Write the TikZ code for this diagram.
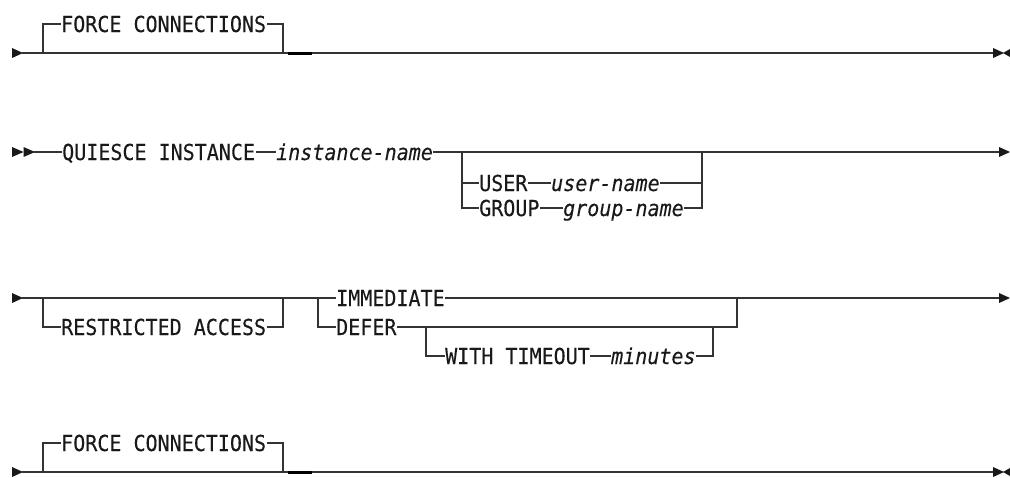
\documentclass[tikz,border=0pt]{standalone}
\usepackage{fontspec}
\newfontfamily\rr[FakeStretch=0.91,FakeBold=0.2]{DejaVu Sans Mono}
\begin{document}
\begin{tikzpicture}[x=1pt,y=-1pt,
  rail/.style={line width=1.4pt, draw=black!80, line cap=rect},
  thick rail/.style={line width=3pt, draw=black},
  kw/.style={font=\rr\fontsize{22}{24}\selectfont, text=black!90, anchor=west, inner xsep=1pt, inner ysep=0pt, text height=16pt, text depth=0pt},
  var/.style={kw, font=\rr\itshape\fontsize{22}{24}\selectfont},
  tip/.style={fill=black!90}]
\useasboundingbox (0,0) rectangle (1010,477);

% ---------- line 1 ----------
\coordinate (s1) at (23,53);
\coordinate (e1) at (993,53);
\coordinate (b1l) at (43,53);
\coordinate (b1r) at (283,53);
\coordinate (d1a) at (288,53);
\coordinate (d1b) at (312,53);
\fill[tip] (12,48) -- (s1) -- (12,58) -- cycle;
\node[kw] (fc1) at (60,24) {FORCE CONNECTIONS};
\draw[rail] (s1) -- (e1);
\draw[rail] (b1l) |- (fc1.west);
\draw[rail] (fc1.east) -| (b1r);
\draw[thick rail] (d1a) -- (d1b);
\fill[tip] (e1) ++(0,-5) -- ++(11,5) -- ++(-11,5) -- cycle;
\fill[tip] (1010,49) -- (1003,53) -- (1010,57) -- cycle;

% ---------- line 2 ----------
\coordinate (s2) at (35,152);
\coordinate (e2) at (999,152);
\coordinate (j2l) at (462,152);
\coordinate (j2r) at (702,152);
\fill[tip] (12,147) -- (23.5,152) -- (12,157) -- cycle;
\fill[tip] (23.5,147) -- (s2) -- (23.5,157) -- cycle;
\node[kw] (qi) at (61,152) {QUIESCE INSTANCE};
\node[var] (iname) at (275,152) {instance-name};
\draw[rail] (s2) -- (qi.west);
\draw[rail] (qi.east) -- (iname.west);
\draw[rail] (iname.east) -- (e2);
\fill[tip] (e2) ++(0,-5) -- ++(11,5) -- ++(-11,5) -- cycle;
\node[kw] (user) at (478,183) {USER};
\node[var] (uname) at (550,183) {user-name};
\node[kw] (group) at (478,208) {GROUP};
\node[var] (gname) at (562,208) {group-name};
\draw[rail] (j2l) |- (user.west);
\draw[rail] (j2l) |- (group.west);
\draw[rail] (user.east) -- (uname.west);
\draw[rail] (group.east) -- (gname.west);
\draw[rail] (uname.east) -| (j2r);
\draw[rail] (gname.east) -| (j2r);

% ---------- line 3 ----------
\coordinate (s3) at (23,298);
\coordinate (e3) at (999,298);
\coordinate (b3l) at (43,298);
\coordinate (b3r) at (283,298);
\coordinate (j3l) at (318,298);
\coordinate (j3r) at (737,298);
\coordinate (j3a) at (426,327);
\coordinate (j3b) at (713,327);
\fill[tip] (12,293) -- (s3) -- (12,303) -- cycle;
\node[kw] (imm) at (335,298) {IMMEDIATE};
\draw[rail] (s3) -- (imm.west);
\draw[rail] (imm.east) -- (e3);
\fill[tip] (e3) ++(0,-5) -- ++(11,5) -- ++(-11,5) -- cycle;
\node[kw] (ra) at (60,327) {RESTRICTED ACCESS};
\draw[rail] (b3l) |- (ra.west);
\draw[rail] (ra.east) -| (b3r);
\node[kw] (defer) at (335,327) {DEFER};
\draw[rail] (j3l) |- (defer.west);
\draw[rail] (defer.east) -| (j3r);
\node[kw] (wt) at (444,356) {WITH TIMEOUT};
\node[var] (mins) at (610,356) {minutes};
\draw[rail] (j3a) |- (wt.west);
\draw[rail] (wt.east) -- (mins.west);
\draw[rail] (mins.east) -| (j3b);

% ---------- line 4 ----------
\coordinate (s4) at (23,472);
\coordinate (e4) at (993,472);
\coordinate (b4l) at (43,472);
\coordinate (b4r) at (283,472);
\coordinate (d4a) at (288,472);
\coordinate (d4b) at (312,472);
\fill[tip] (12,467) -- (s4) -- (12,477) -- cycle;
\node[kw] (fc4) at (60,443) {FORCE CONNECTIONS};
\draw[rail] (s4) -- (e4);
\draw[rail] (b4l) |- (fc4.west);
\draw[rail] (fc4.east) -| (b4r);
\draw[thick rail] (d4a) -- (d4b);
\fill[tip] (e4) ++(0,-5) -- ++(11,5) -- ++(-11,5) -- cycle;
\fill[tip] (1010,468) -- (1003,472) -- (1010,476) -- cycle;
\end{tikzpicture}
\end{document}
